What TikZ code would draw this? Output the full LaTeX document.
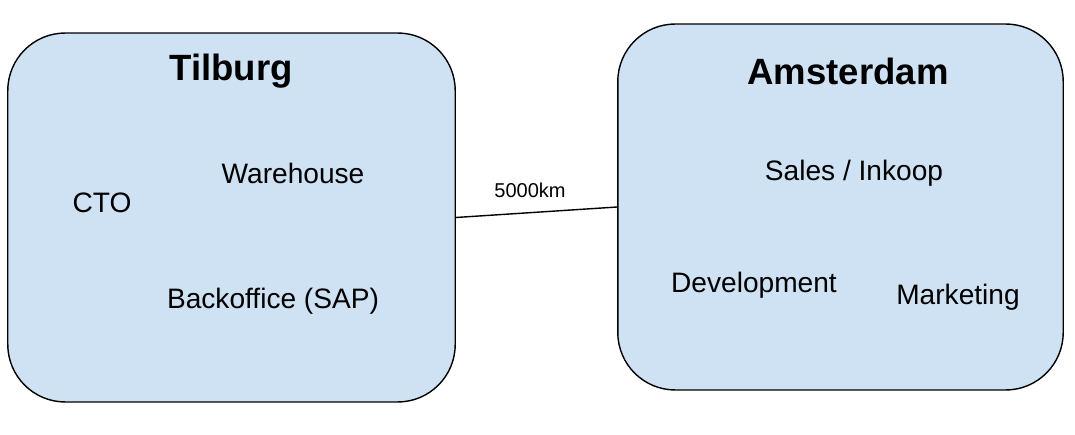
\documentclass[tikz,border=0pt]{standalone}
\usepackage{fontspec}
\setmainfont{Liberation Sans}
\definecolor{siteblue}{HTML}{CFE2F3}
\tikzset{
  site/.style={draw=black, thick, fill=siteblue, rounded corners=1.15cm, inner sep=0pt},
  sitename/.style={font=\fontsize{20.8}{24}\selectfont\bfseries},
  dept/.style={font=\fontsize{16}{19}\selectfont}
}
\begin{document}
\begin{tikzpicture}[x=0.02cm, y=-0.02cm]
  \useasboundingbox (0,0) rectangle (1075,435);
  % Sites
  \node[site, minimum width=8.95cm, minimum height=7.38cm] (tilburg) at (231.5,217.5) {};
  \node[site, minimum width=8.91cm, minimum height=7.32cm] (amsterdam) at (840.5,207) {};
  % Connection between the sites
  \draw[thick] (tilburg.east) -- node[pos=0.46, above=0.16cm, font=\fontsize{11.4}{13}\selectfont] (dist) {5000km} (amsterdam.west);
  % Tilburg departments
  \node[sitename] (tname) at (231,71) {Tilburg};
  \node[dept] (warehouse) at (293,173) {Warehouse};
  \node[dept] (cto) at (102,203) {CTO};
  \node[dept] (backoffice) at (273,301) {Backoffice (SAP)};
  % Amsterdam departments
  \node[sitename] (aname) at (848,71) {Amsterdam};
  \node[dept] (sales) at (854,173) {Sales / Inkoop};
  \node[dept] (development) at (754,285) {Development};
  \node[dept] (marketing) at (958,297) {Marketing};
\end{tikzpicture}
\end{document}
